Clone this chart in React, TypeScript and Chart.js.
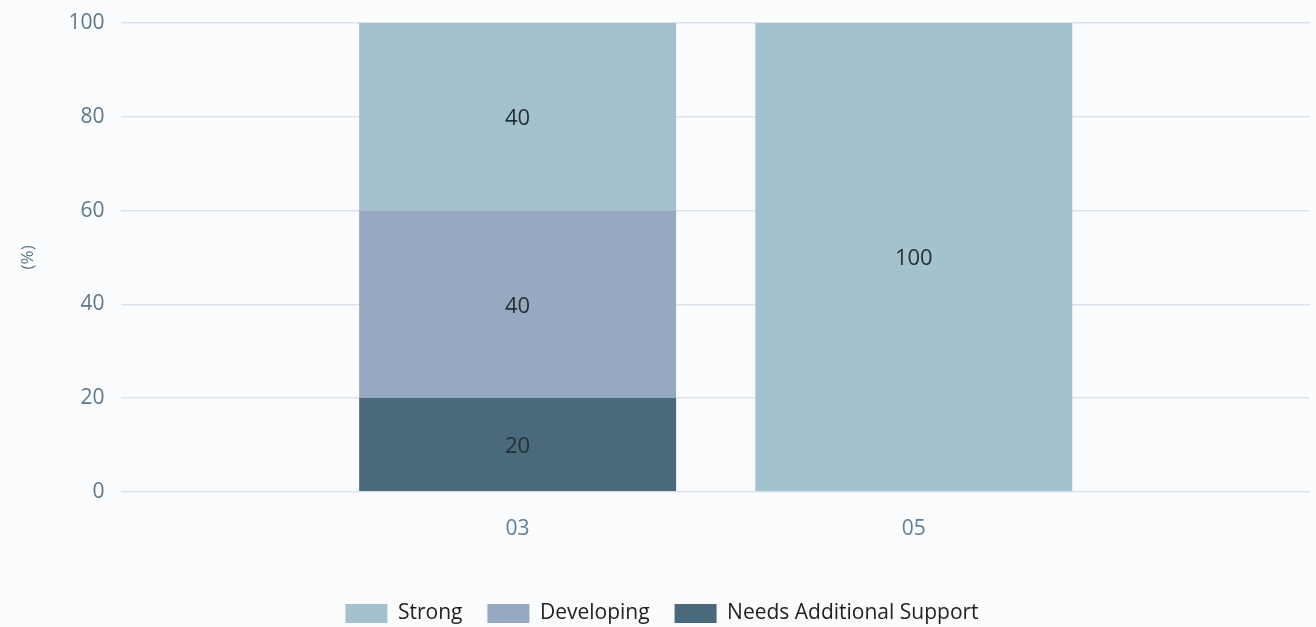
import React, { useEffect, useRef } from "react";
import { Chart, registerables } from "chart.js";

Chart.register(...registerables);

const categories = ["", "03", "05", ""];
const strongValues = [null, 40, 100, null];
const developingValues = [null, 40, 0, null];
const needsValues = [null, 20, 0, null];
const yTicks = [0, 20, 40, 60, 80, 100];

const FONT = "'Open Sans', sans-serif";

const valueLabels = {
  id: "valueLabels",
  afterDatasetsDraw(chart: any) {
    const ctx = chart.ctx;
    ctx.save();
    ctx.font = `22px ${FONT}`;
    ctx.fillStyle = "#243038";
    ctx.textAlign = "center";
    ctx.textBaseline = "middle";
    chart.data.datasets.forEach((ds: any, di: number) => {
      const meta = chart.getDatasetMeta(di);
      meta.data.forEach((bar: any, i: number) => {
        const v = ds.data[i];
        if (v == null || v === 0) return;
        const p = bar.getProps(["x", "y", "base"], true);
        ctx.fillText(String(v), p.x, (p.y + p.base) / 2 + 2);
      });
    });
    ctx.restore();
  },
};

export default function App() {
  const ref = useRef<HTMLCanvasElement>(null);
  useEffect(() => {
    if (!ref.current) return;
    const chart = new Chart(ref.current, {
      type: "bar",
      data: {
        labels: categories,
        datasets: [
          { label: "Needs Additional Support", data: needsValues as any, backgroundColor: "#4a6a7c" },
          { label: "Developing", data: developingValues as any, backgroundColor: "#97a9c1" },
          { label: "Strong", data: strongValues as any, backgroundColor: "#a4c1ce" },
        ],
      },
      options: {
        animation: false,
        responsive: false,
        maintainAspectRatio: false,
        layout: { padding: { top: 0, right: 6, left: 14, bottom: -7 } },
        datasets: { bar: { categoryPercentage: 0.8, barPercentage: 1 } },
        scales: {
          x: {
            stacked: true,
            offset: false,
            grid: { display: false, drawTicks: false },
            border: { display: false },
            ticks: {
              color: "#5e7f94",
              font: { size: 21, family: FONT },
              padding: 25,
            },
            afterFit: (axis: any) => {
              axis.height += 11;
              axis.paddingRight = 0;
              axis.paddingLeft = 0;
            },
          },
          y: {
            stacked: true,
            min: 0,
            max: 100,
            afterBuildTicks: (axis: any) => {
              axis.ticks = yTicks.map((v) => ({ value: v }));
            },
            afterFit: (axis: any) => {
              axis.paddingTop = 23;
            },
            grid: { color: "#dfe2ee", lineWidth: 1.5, drawTicks: false },
            border: { display: false },
            ticks: {
              color: "#5e7888",
              font: { size: 21, family: FONT },
              padding: 17,
            },
            title: {
              display: true,
              text: "(%)",
              color: "#5e7888",
              font: { size: 17, family: FONT },
              padding: { bottom: 13 },
            },
          },
        },
        plugins: {
          legend: {
            position: "bottom",
            reverse: true,
            labels: {
              boxWidth: 42,
              boxHeight: 19,
              color: "#222",
              font: { size: 21, family: FONT },
              padding: 25,
            },
          },
          tooltip: { enabled: false },
        },
      },
      plugins: [valueLabels],
    });
    return () => chart.destroy();
  }, []);
  return (
    <div style={{ position: "fixed", left: 0, top: 0, width: 1316, height: 627, background: "#fbfcfe" }}>
      <canvas ref={ref} width={1316} height={627} style={{ display: "block" }} />
    </div>
  );
}
